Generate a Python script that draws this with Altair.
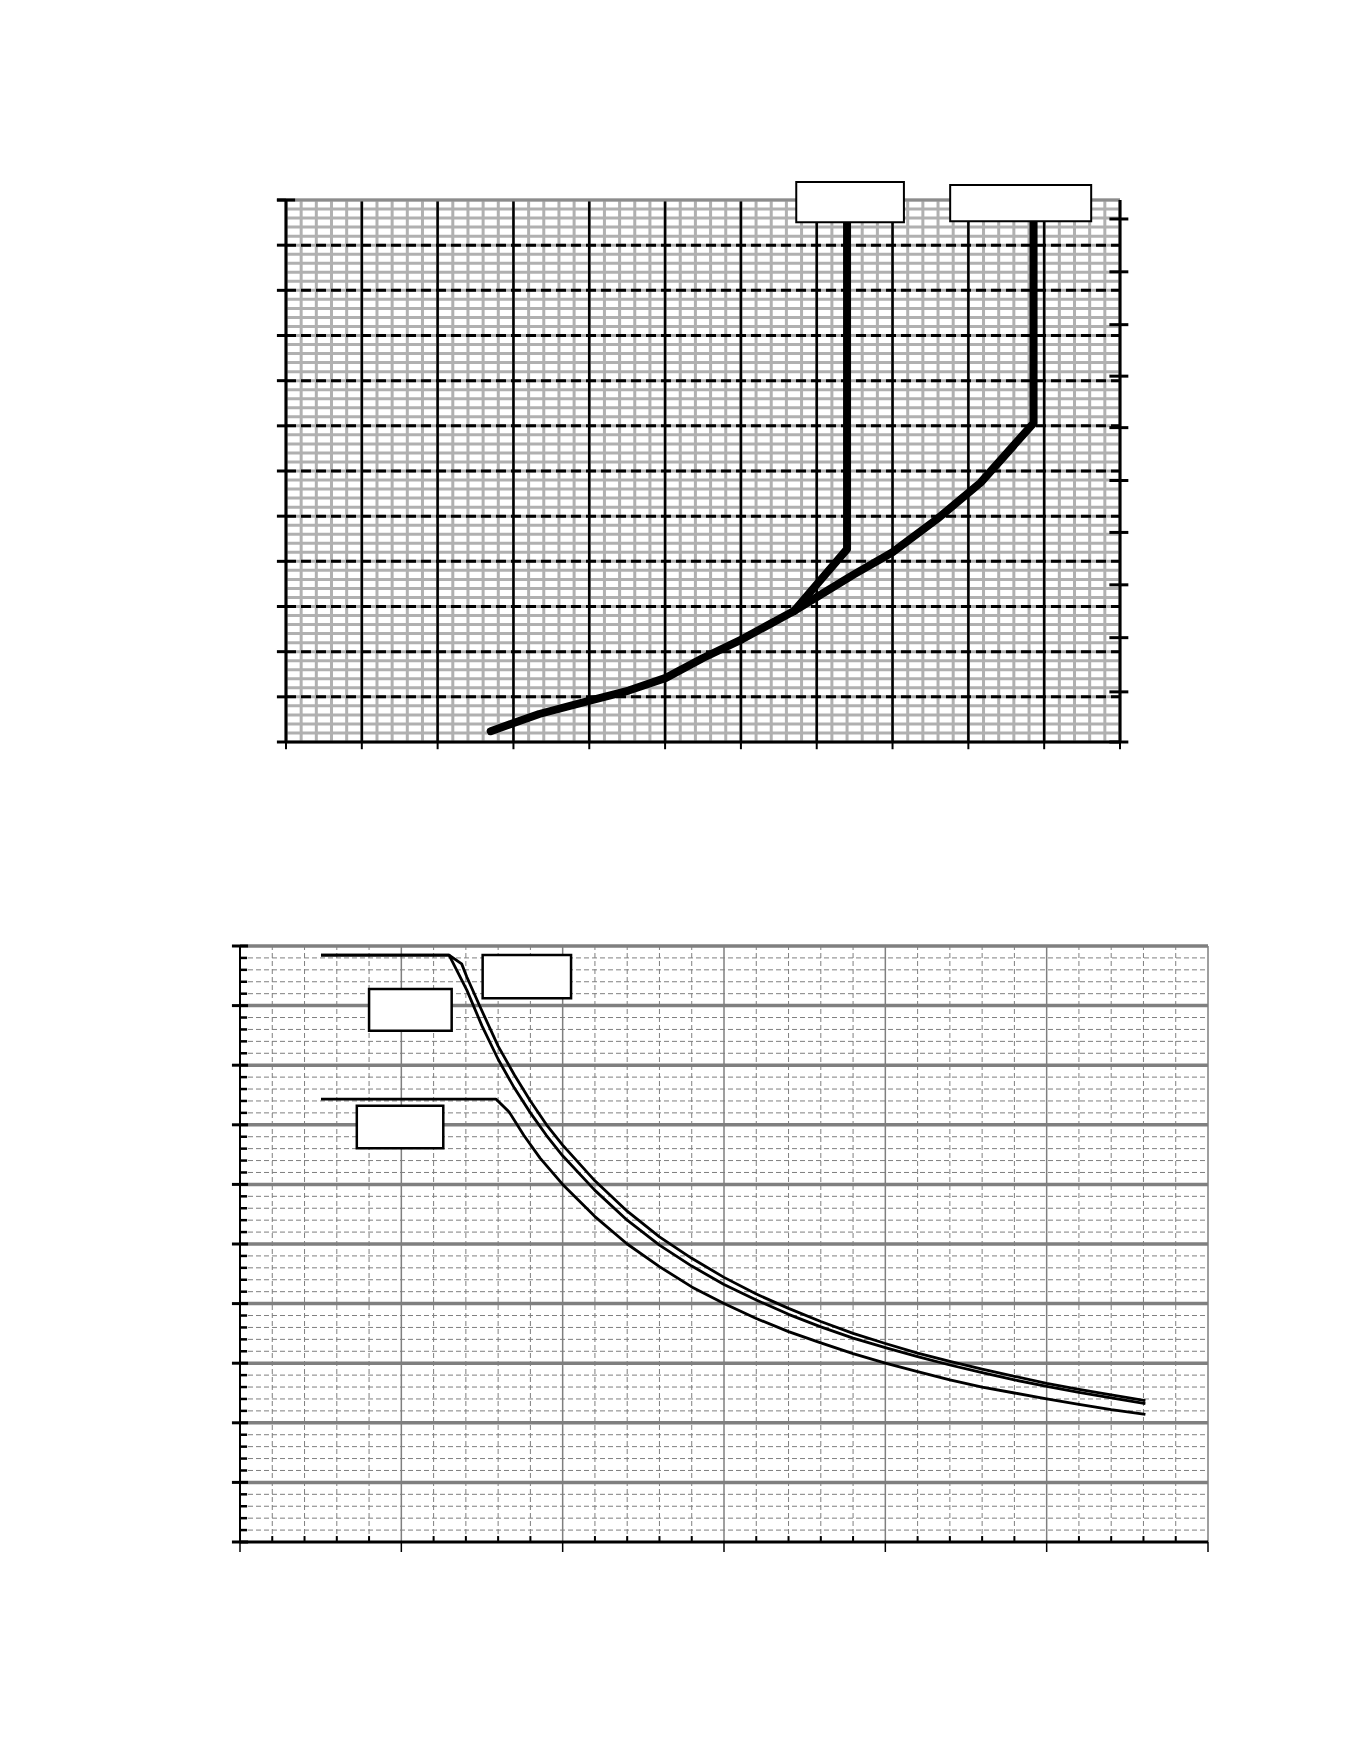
import altair as alt
import pandas as pd

# ---------------- upper panel (grid units: x 0..11, y 0..12) ----------------
up_x_major = list(range(0, 12))
up_y_major = list(range(0, 13))
up_x_minor = [round(i * 0.2, 1) for i in range(0, 56)]
up_y_minor = [round(i * 0.2, 1) for i in range(0, 61)]
up_right_ticks = [0.0, 1.11, 2.31, 3.48, 4.64, 5.79, 6.96, 8.10, 9.24, 10.41, 11.58]

up_common_x = [2.70, 3.34, 4.02, 4.52, 5.01, 5.50, 6.02, 6.70]
up_common_y = [0.24, 0.62, 0.92, 1.14, 1.42, 1.86, 2.28, 2.90]
up_a_x = [6.70, 7.40, 7.40]
up_a_y = [2.90, 4.27, 11.60]
up_b_x = [6.70, 7.48, 8.00, 8.59, 9.16, 9.86, 9.86]
up_b_y = [2.90, 3.70, 4.20, 4.94, 5.74, 7.06, 11.60]

up_box_x1 = [6.73, 8.76]
up_box_x2 = [8.15, 10.62]
up_box_y1 = [11.51, 11.53]
up_box_y2 = [12.40, 12.33]

# ---------------- lower panel (grid units: x 0..30, y 0..50) ----------------
lo_x_major = [0, 5, 10, 15, 20, 25, 30]
lo_y_major = [0, 5, 10, 15, 20, 25, 30, 35, 40, 45, 50]
lo_x_minor = [v for v in range(31) if v % 5]
lo_y_minor = [v for v in range(51) if v % 5]

lo_a_x = [2.51, 6.48, 7.03, 7.5, 8.0, 8.5, 9.0, 9.5, 10, 11, 12, 13, 14, 15, 16, 17, 18,
          19, 20, 21, 22, 23, 24, 25, 26, 27, 28.06]
lo_a_y = [49.24, 49.24, 46.3, 43.3, 40.5, 38.1, 36.0, 34.1, 32.4, 29.5, 27.0, 24.9, 23.15,
          21.6, 20.3, 19.1, 18.05, 17.1, 16.3, 15.55, 14.85, 14.2, 13.6, 13.05, 12.55, 12.1, 11.6]
lo_b_x = [2.51, 6.48, 6.87, 7.03, 7.44, 8.0, 8.5, 9.0, 9.5, 10, 11, 12, 13, 14, 15, 16, 17,
          18, 19, 20, 21, 22, 23, 24, 25, 26, 27, 28.06]
lo_b_y = [49.24, 49.24, 48.5, 47.4, 44.9, 41.6, 39.2, 37.0, 35.0, 33.3, 30.3, 27.75, 25.6,
          23.8, 22.2, 20.8, 19.6, 18.5, 17.5, 16.65, 15.85, 15.15, 14.5, 13.9, 13.3, 12.8,
          12.35, 11.87]
lo_c_x = [2.51, 7.93, 8.34, 8.8, 9.3, 10, 11, 12, 13, 14, 15, 16, 17, 18, 19, 20, 21, 22,
          23, 24, 25, 26, 27, 28.06]
lo_c_y = [37.16, 37.16, 36.08, 34.1, 32.2, 30.0, 27.3, 25.0, 23.1, 21.4, 20.0, 18.75, 17.65,
          16.7, 15.8, 15.0, 14.3, 13.6, 13.0, 12.5, 12.0, 11.55, 11.1, 10.7]

lo_box_x1 = [7.52, 4.00, 3.62]
lo_box_x2 = [10.26, 6.56, 6.30]
lo_box_y1 = [45.61, 42.90, 33.03]
lo_box_y2 = [49.24, 46.39, 36.60]


def sc(dom):
    return alt.Scale(domain=dom, nice=False, zero=False)


def vlines(vals, ya, yb, sx, sy, **mk):
    df = pd.DataFrame({"x": vals, "ya": ya, "yb": yb})
    return alt.Chart(df).mark_rule(**mk).encode(
        x=alt.X("x:Q", scale=sx, axis=None),
        y=alt.Y("ya:Q", scale=sy, axis=None),
        y2="yb:Q",
    )


def hlines(vals, xa, xb, sx, sy, **mk):
    df = pd.DataFrame({"y": vals, "xa": xa, "xb": xb})
    return alt.Chart(df).mark_rule(**mk).encode(
        y=alt.Y("y:Q", scale=sy, axis=None),
        x=alt.X("xa:Q", scale=sx, axis=None),
        x2="xb:Q",
    )


def lines(series, sx, sy, **mk):
    rows = []
    for s, (xs, ys) in enumerate(series):
        for i, (x, y) in enumerate(zip(xs, ys)):
            rows.append({"s": s, "i": i, "x": x, "y": y})
    df = pd.DataFrame(rows)
    return alt.Chart(df).mark_line(**mk).encode(
        x=alt.X("x:Q", scale=sx, axis=None),
        y=alt.Y("y:Q", scale=sy, axis=None),
        detail="s:N",
        order="i:Q",
    )


def boxes(x1, x2, y1, y2, sx, sy, sw):
    df = pd.DataFrame({"x1": x1, "x2": x2, "y1": y1, "y2": y2})
    return alt.Chart(df).mark_rect(fill="white", stroke="black", strokeWidth=sw).encode(
        x=alt.X("x1:Q", scale=sx, axis=None),
        x2="x2:Q",
        y=alt.Y("y1:Q", scale=sy, axis=None),
        y2="y2:Q",
    )


# whole drawing area: 968 x 1342 px; upper panel occupies the top 542 px,
# lower panel the bottom 596 px (gap of 204 px between them)
sx_u = sc([-0.6067, 12.1607])
sy_u = sc([-17.712, 12])
sx_l = sc([0, 30])
sy_l = sc([0, 112.584])

GRAY = "#b0b0b0"
upper = alt.layer(
    vlines(up_x_minor, 0, 12, sx_u, sy_u, color=GRAY, strokeWidth=3),
    hlines(up_y_minor, 0, 11, sx_u, sy_u, color=GRAY, strokeWidth=3),
    vlines(up_x_major[1:-1], 0, 12, sx_u, sy_u, color="black", strokeWidth=2.5),
    hlines(up_y_major[1:-1], 0, 11, sx_u, sy_u, color="black", strokeWidth=3,
           strokeDash=[10, 5]),
    hlines([12], 0, 11, sx_u, sy_u, color="#8c8c8c", strokeWidth=3),
    vlines([0], 0, 12, sx_u, sy_u, color="black", strokeWidth=3),
    vlines([11], 0, 12, sx_u, sy_u, color="black", strokeWidth=3),
    hlines([0], 0, 11, sx_u, sy_u, color="black", strokeWidth=3),
    hlines(up_y_major, -0.12, 0, sx_u, sy_u, color="black", strokeWidth=3),
    hlines([12], -0.12, 0.12, sx_u, sy_u, color="black", strokeWidth=3),
    vlines(up_x_major, -0.16, 0, sx_u, sy_u, color="black", strokeWidth=2),
    hlines(up_right_ticks, 10.86, 11.11, sx_u, sy_u, color="black", strokeWidth=3),
    lines([(up_common_x, up_common_y), (up_a_x, up_a_y), (up_b_x, up_b_y)], sx_u, sy_u,
          color="black", strokeWidth=8, strokeCap="round", strokeJoin="round"),
    boxes(up_box_x1, up_box_x2, up_box_y1, up_box_y2, sx_u, sy_u, 2),
)

G2 = "#7f7f7f"
lower = alt.layer(
    vlines(lo_x_minor, 0, 50, sx_l, sy_l, color=G2, strokeWidth=1, strokeDash=[5, 3]),
    hlines(lo_y_minor, 0, 30, sx_l, sy_l, color=G2, strokeWidth=1, strokeDash=[5, 3]),
    vlines(lo_x_major[1:], 0, 50, sx_l, sy_l, color=G2, strokeWidth=1.5),
    hlines(lo_y_major[1:], 0, 30, sx_l, sy_l, color=G2, strokeWidth=3.5),
    vlines([0], 0, 50, sx_l, sy_l, color="black", strokeWidth=2),
    hlines([0], 0, 30, sx_l, sy_l, color="black", strokeWidth=3),
    hlines(lo_y_major, -0.25, 0.25, sx_l, sy_l, color="black", strokeWidth=3),
    hlines(lo_y_minor, 0.03, 0.22, sx_l, sy_l, color="black", strokeWidth=2.5),
    vlines(lo_x_major, -0.84, 0, sx_l, sy_l, color="black", strokeWidth=1.5),
    vlines(lo_x_minor, 0, 0.5, sx_l, sy_l, color="black", strokeWidth=2),
    lines([(lo_a_x, lo_a_y), (lo_b_x, lo_b_y), (lo_c_x, lo_c_y)], sx_l, sy_l,
          color="black", strokeWidth=2.8, strokeJoin="round"),
    boxes(lo_box_x1, lo_box_x2, lo_box_y1, lo_box_y2, sx_l, sy_l, 2.5),
)

chart = alt.layer(upper, lower).resolve_scale(
    x="independent", y="independent"
).properties(
    width=968,
    height=1342,
    padding={"left": 232, "top": 192, "right": 20, "bottom": 20},
    autosize=alt.AutoSizeParams(type="none"),
).configure_view(strokeWidth=0)

chart.save("out.html", embed_options={"renderer": "svg", "actions": False})
